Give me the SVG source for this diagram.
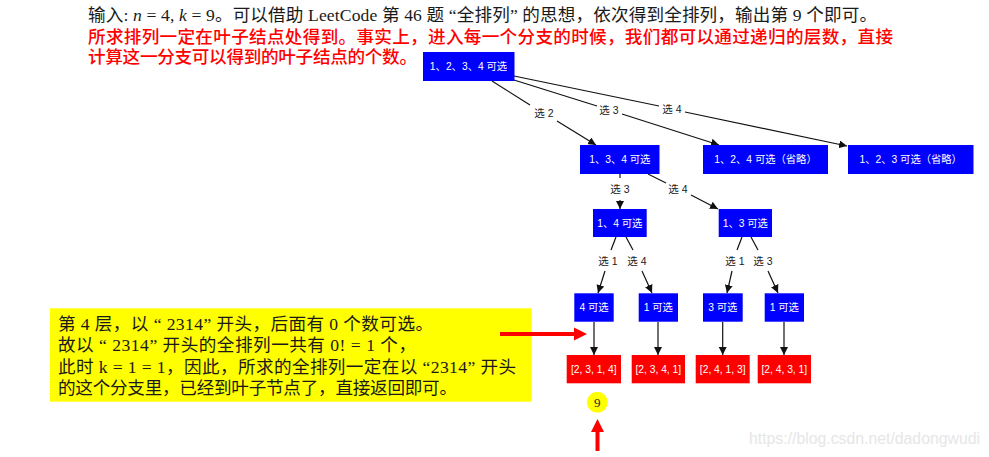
<svg xmlns="http://www.w3.org/2000/svg" width="989" height="457" viewBox="0 0 989 457">
<style>
text{font-family:"Liberation Sans","Noto Sans CJK SC",sans-serif}
.serif{font-family:"Liberation Serif","Noto Sans CJK SC",serif;font-size:17.600px;fill:#1a1a1a}
.red{fill:#ff0000;font-weight:500}
.b{fill:#0000ff}
.r{fill:#ff0000}
.n{fill:#fff;font-size:10.300px;text-anchor:middle;dominant-baseline:central}
.l{fill:#222;font-size:10.500px;text-anchor:middle;dominant-baseline:central}
.e{fill:none;stroke:#111;stroke-width:1.200}
.a{marker-end:url(#arrow)}
</style>
<defs>
<marker id="arrow" markerUnits="userSpaceOnUse" markerWidth="9" markerHeight="8" refX="8" refY="4" orient="auto"><path d="M0 0L8 4L0 8Z" fill="#111"/></marker>
</defs>
<rect width="989" height="457" fill="#fff"/>
<g id="caption">
<text class="serif" x="88" y="21" textLength="789" lengthAdjust="spacing">输入: <tspan font-style="italic">n</tspan> = 4, <tspan font-style="italic">k</tspan> = 9。可以借助 LeetCode 第 46 题 “全排列” 的思想，依次得到全排列，输出第 9 个即可。</text>
<text class="serif red" x="88" y="43" textLength="805" lengthAdjust="spacing">所求排列一定在叶子结点处得到。事实上，进入每一个分支的时候，我们都可以通过递归的层数，直接</text>
<text class="serif red" x="88" y="63" textLength="329" lengthAdjust="spacing">计算这一分支可以得到的叶子结点的个数。</text>
</g>
<g id="connectors">
<path class="e" d="M492 81L530 105"/><path class="e a" d="M557 121L596 145"/>
<path class="e" d="M514 80L597 106"/><path class="e a" d="M622 114L719 145"/>
<path class="e" d="M514 76L659 106"/><path class="e a" d="M685 112L847 146"/>
<path class="e" d="M620 174V178"/><path class="e a" d="M620 200V209"/>
<path class="e" d="M648 174L666 183"/><path class="e a" d="M691 195L718 209"/>
<path class="e" d="M616 237L611 250"/><path class="e a" d="M605 271L598 293"/>
<path class="e" d="M626 237L633 250"/><path class="e a" d="M642 271L652 293"/>
<path class="e" d="M742 237L737 250"/><path class="e a" d="M732 271L727 293"/>
<path class="e" d="M751 237L758 250"/><path class="e a" d="M768 271L778 293"/>
<path class="e a" d="M594 322V355"/>
<path class="e a" d="M658 322V355"/>
<path class="e a" d="M722.700 322V355"/>
<path class="e a" d="M784 322V355"/>
<text class="l" x="544" y="113">选 2</text>
<text class="l" x="609" y="110">选 3</text>
<text class="l" x="672" y="109">选 4</text>
<text class="l" x="620" y="189">选 3</text>
<text class="l" x="678" y="189">选 4</text>
<text class="l" x="608" y="261">选 1</text>
<text class="l" x="637" y="261">选 4</text>
<text class="l" x="735" y="261">选 1</text>
<text class="l" x="763" y="261">选 3</text>
</g>
<g id="n1234"><rect class="b" x="423" y="52" width="91.500" height="29"/><text class="n" x="468.500" y="66.500">1、2、3、4 可选</text></g>
<g id="n134"><rect class="b" x="580" y="145" width="79.500" height="29"/><text class="n" x="619.800" y="159.500">1、3、4 可选</text></g>
<g id="n124"><rect class="b" x="703" y="145" width="125" height="29"/><text class="n" x="765.500" y="159.500">1、2、4 可选（省略）</text></g>
<g id="n123"><rect class="b" x="848" y="145" width="125.500" height="29"/><text class="n" x="910.700" y="159.500">1、2、3 可选（省略）</text></g>
<g id="n14"><rect class="b" x="593" y="209" width="53.700" height="28"/><text class="n" x="619.800" y="223">1、4 可选</text></g>
<g id="n13"><rect class="b" x="718.700" y="209" width="53.300" height="28"/><text class="n" x="745.300" y="223">1、3 可选</text></g>
<g id="n4"><rect class="b" x="574.300" y="293.300" width="39.400" height="28.400"/><text class="n" x="594" y="307.500">4 可选</text></g>
<g id="n1a"><rect class="b" x="638.700" y="293.300" width="39.300" height="28.400"/><text class="n" x="658.300" y="307.500">1 可选</text></g>
<g id="n3"><rect class="b" x="703" y="293.300" width="39.700" height="28.400"/><text class="n" x="722.800" y="307.500">3 可选</text></g>
<g id="n1b"><rect class="b" x="764.700" y="293.300" width="39.300" height="28.400"/><text class="n" x="784.300" y="307.500">1 可选</text></g>
<g id="r2314"><rect class="r" x="566.700" y="355" width="54.300" height="28.300"/><text class="n" x="593.800" y="369.200">[2, 3, 1, 4]</text></g>
<g id="r2341"><rect class="r" x="631.700" y="355" width="53.300" height="28.300"/><text class="n" x="658.300" y="369.200">[2, 3, 4, 1]</text></g>
<g id="r2413"><rect class="r" x="695.700" y="355" width="54" height="28.300"/><text class="n" x="722.700" y="369.200">[2, 4, 1, 3]</text></g>
<g id="r2431"><rect class="r" x="757.700" y="355" width="53.300" height="28.300"/><text class="n" x="784.300" y="369.200">[2, 4, 3, 1]</text></g>
<g id="note">
<rect x="50" y="308.300" width="481.700" height="93.400" fill="#ffff00"/>
<text class="serif" x="58" y="330" textLength="375" lengthAdjust="spacing">第 4 层，以 “ 2314” 开头，后面有 0 个数可选。</text>
<text class="serif" x="58" y="351" textLength="358" lengthAdjust="spacing">故以 “ 2314” 开头的全排列一共有 0! = 1 个，</text>
<text class="serif" x="58" y="373" textLength="458" lengthAdjust="spacing">此时 k = 1 = 1，因此，所求的全排列一定在以 “2314” 开头</text>
<text class="serif" x="58" y="394" textLength="399" lengthAdjust="spacing">的这个分支里，已经到叶子节点了，直接返回即可。</text>
</g>
<g id="marker9">
<circle cx="597.300" cy="402.300" r="10.500" fill="#ffff00"/>
<text x="597.300" y="407" text-anchor="middle" style="font-family:'Liberation Serif',serif;font-size:13px;fill:#222">9</text>
</g>
<g id="red-arrows">
<path d="M500 334H576" stroke="#ff0000" stroke-width="4" fill="none"/>
<path d="M574 327.500L587 334L574 340.500Z" fill="#ff0000"/>
<path d="M597.500 451V430" stroke="#ff0000" stroke-width="4" fill="none"/>
<path d="M591 432L597.500 419L604 432Z" fill="#ff0000"/>
</g>
<text id="watermark" x="980" y="444" text-anchor="end" style="font-size:15.800px;fill:#e6e6e6">https://blog.csdn.net/dadongwudi</text>
</svg>
